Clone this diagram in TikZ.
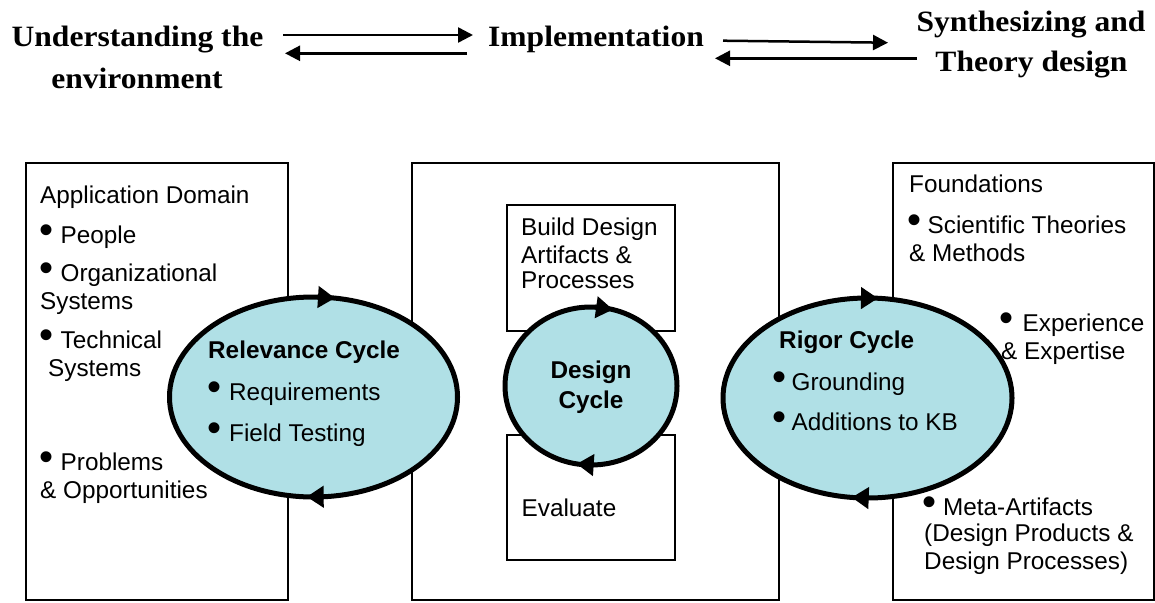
\documentclass[tikz,border=0pt]{standalone}
\usepackage{fontspec}
\setmainfont{Liberation Sans}
\newfontfamily\titlefont{Liberation Serif}
\usetikzlibrary{arrows.meta}
\definecolor{cycfill}{RGB}{176,224,230}
% enlarged bullet followed by a fixed gap
\newcommand{\bul}[1][20pt]{\makebox[#1][l]{\hspace{-1.5pt}\scalebox{1.65}{\textbullet}}}
\newcommand{\ttl}[1]{\scalebox{1.07}[1]{#1}}
\begin{document}
\begin{tikzpicture}[x=1pt,y=-1pt,
  frame/.style={draw=black,line width=1.6pt},
  txt/.style={anchor=base west,inner sep=0pt,font=\fontsize{24.3}{28}\selectfont},
  btxt/.style={txt,font=\fontsize{24.3}{28}\selectfont\bfseries},
  ctxt/.style={anchor=base,inner sep=0pt,font=\fontsize{24.3}{28}\selectfont\bfseries},
  ttxt/.style={anchor=base,inner sep=0pt,font=\fontsize{29.5}{34}\selectfont\titlefont\bfseries},
  flow/.style={line width=2.5pt,-{Triangle[length=15pt,width=15pt]}},
  cyc/.style={draw=black,line width=5pt,fill=cycfill},
  cyctip/.style={line width=5pt,-{Triangle[length=17pt,width=21pt]}}]
\useasboundingbox (0,0) rectangle (1155,602);

% ---- phases along the top ----
\node[ttxt] (und1) at (137.5,46.7) {\ttl{Understanding the}};
\node[ttxt] (und2) at (137,88.3) {\ttl{environment}};
\node[ttxt] (impl) at (596,46.7) {\ttl{Implementation}};
\node[ttxt] (syn1) at (1031,31.7) {\ttl{Synthesizing and}};
\node[ttxt] (syn2) at (1031.5,71.7) {\ttl{Theory design}};

\coordinate (a1s) at (283,35);   \coordinate (a1e) at (473,35);
\coordinate (a2s) at (467,53.3); \coordinate (a2e) at (285,53.3);
\coordinate (a3s) at (723,40.7); \coordinate (a3e) at (888,42.7);
\coordinate (a4s) at (917,58.3); \coordinate (a4e) at (715,58.3);
\draw[flow] (a1s) -- (a1e);
\draw[flow] (a2s) -- (a2e);
\draw[flow] (a3s) -- (a3e);
\draw[flow] (a4s) -- (a4e);

% ---- three environments ----
\draw[frame] (26,163) rectangle (288,600);
\draw[frame] (412,163) rectangle (779,600);
\draw[frame] (893,163) rectangle (1154,600);
\draw[frame] (507,205) rectangle (675,331);
\draw[frame] (507,435) rectangle (675,560);

% ---- cycles, each turning clockwise ----
\coordinate (rel) at (313.5,397);
\coordinate (des) at (591,386);
\coordinate (rig) at (867.5,398);
\draw[cyc] (rel) ellipse [x radius=144, y radius=100];
\draw[cyc] (des) ellipse [x radius=86, y radius=79];
\draw[cyc] (rig) ellipse [x radius=144.5, y radius=100];

\draw[cyctip] ([shift={(4,-100)}]rel) -- ([shift={(21.5,-98.9)}]rel);
\draw[cyctip] ([shift={(10,99.7)}]rel) -- ([shift={(-6.8,99.8)}]rel);
\draw[cyctip] ([shift={(4,-78.9)}]des) -- ([shift={(22,-76.4)}]des);
\draw[cyctip] ([shift={(2,79)}]des) -- ([shift={(-14.3,77.9)}]des);
\draw[cyctip] ([shift={(-6,-99.9)}]rig) -- ([shift={(10.5,-99.7)}]rig);
\draw[cyctip] ([shift={(0,100)}]rig) -- ([shift={(-15.8,99.4)}]rig);

% ---- application domain ----
\node[txt] (ad0) at (40,203) {Application Domain};
\node[txt] (ad1) at (40.5,243) {\bul People};
\node[txt] (ad2) at (40.5,281) {\bul Organizational};
\node[txt] (ad3) at (40,309) {Systems};
\node[txt] (ad4) at (40.5,348) {\bul Technical};
\node[txt] (ad5) at (48,376) {Systems};
\node[txt] (ad6) at (40.5,470) {\bul Problems};
\node[txt] (ad7) at (40,498) {\& Opportunities};

% ---- design science research ----
\node[txt] (bd1) at (521,235) {Build Design};
\node[txt] (bd2) at (521,263) {Artifacts \&};
\node[txt] (bd3) at (521,288.3) {Processes};
\node[txt] (ev) at (521.5,516.7) {Evaluate};

% ---- knowledge base ----
\node[txt] (kb0) at (909,192) {Foundations};
\node[txt] (kb1) at (909,233.3) {\bul[18.5pt]Scientific Theories};
\node[txt] (kb2) at (909,261.7) {\& Methods};
\node[txt] (kb3) at (1001,331.7) {\bul[21.5pt]Experience};
\node[txt] (kb4) at (1001,359.7) {\& Expertise};
\node[txt] (kb5) at (924,515) {\bul[19pt]Meta-Artifacts};
\node[txt] (kb6) at (924,541.7) {(Design Products \&};
\node[txt] (kb7) at (924,569.3) {Design Processes)};

% ---- cycle labels ----
\node[btxt] (rl0) at (208,358.3) {Relevance Cycle};
\node[txt] (rl1) at (209,400) {\bul[20pt]Requirements};
\node[txt] (rl2) at (209,441.7) {\bul[20pt]Field Testing};

\node[ctxt] (dc1) at (591,378.3) {Design};
\node[ctxt] (dc2) at (591,408.3) {Cycle};

\node[btxt] (rg0) at (779,348.3) {Rigor Cycle};
\node[txt] (rg1) at (774,390) {\bul[17.5pt]Grounding};
\node[txt] (rg2) at (774,430) {\bul[17.5pt]Additions to KB};
\end{tikzpicture}
\end{document}
